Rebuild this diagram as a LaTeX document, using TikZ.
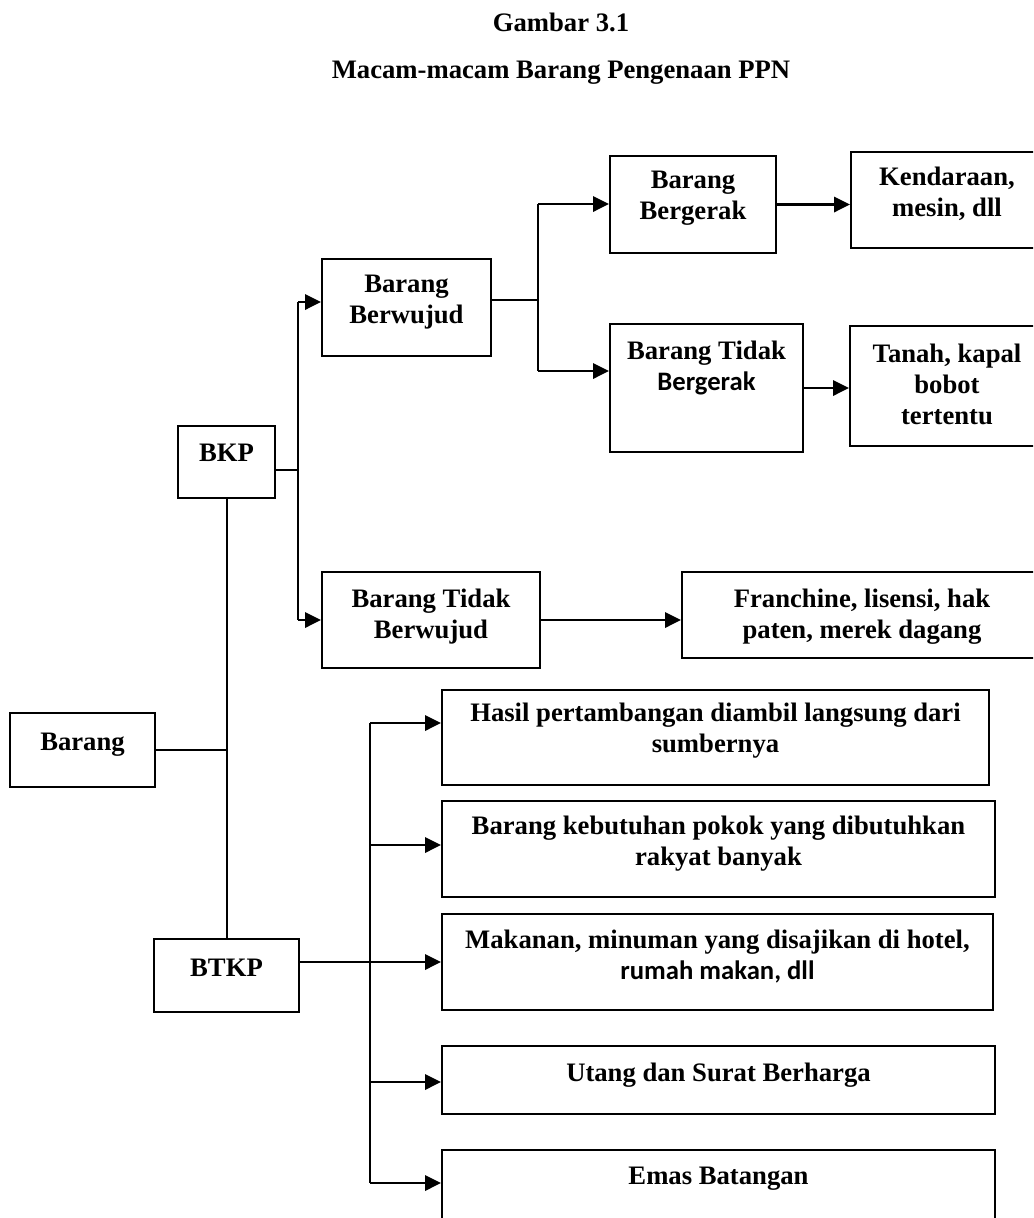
\documentclass[tikz,border=0pt]{standalone}
\usepackage{fontspec}
\setmainfont{Liberation Serif}
\newfontfamily\calibri{Carlito}
\usetikzlibrary{arrows.meta}
\tikzset{kotak/.style 2 args={draw, line width=1.5pt, inner sep=0pt,
    minimum width=#1*0.75pt, minimum height=#2*0.75pt},
  teks/.style={align=center, inner sep=0.75pt,
    font=\fontsize{20}{23.25}\selectfont\bfseries},
  judul/.style={inner sep=0.75pt, font=\fontsize{20}{24}\selectfont\bfseries},
  panah/.style={line width=1.8pt, -{Triangle[length=12pt,width=11.5pt]}},
  garis/.style={line width=1.5pt}}

\begin{document}
\begin{tikzpicture}[x=0.75pt,y=0.75pt,yscale=-1,xscale=1]
\path[use as bounding box] (0,0) rectangle (1033,1218);
\clip (0,0) rectangle (1033,1218);

% Text Node
\node[judul] (gambar) at (561,22) {Gambar 3.1};
% Text Node
\node[judul] (subjudul) at (561,73) {Macam-macam Barang Pengenaan PPN};

%Shape: Rectangle
\node[kotak={145}{74}] (barang) at (82.5,750) {};
\node[kotak={97}{72}] (bkp) at (226.5,462) {};
\node[kotak={145}{73}] (btkp) at (226.5,975.5) {};
\node[kotak={169}{97}] (berwujud) at (406.5,307.5) {};
\node[kotak={218}{96}] (tdkberwujud) at (431,620) {};
\node[kotak={166}{97}] (bergerak) at (693,204.5) {};
\node[kotak={193}{128}] (tdkbergerak) at (706.5,388) {};
\node[kotak={192}{96}] (kendaraan) at (947,200) {};
\node[kotak={193}{120}] (tanah) at (946.5,386) {};
\node[kotak={360}{86}] (franchine) at (862,615) {};
\node[kotak={547}{95}] (hasil) at (715.5,737.5) {};
\node[kotak={553}{96}] (pokok) at (718.5,849) {};
\node[kotak={551}{96}] (makanan) at (717.5,962) {};
\node[kotak={553}{68}] (utang) at (718.5,1080) {};
\node[kotak={553}{110}] (emas) at (718.5,1205) {};

% Text Node
\node[teks] (barang-t) at (82.5,745) {Barang};
\node[teks] (bkp-t) at (226.5,453) {BKP};
\node[teks] (btkp-t) at (226.5,968) {BTKP};
\node[teks] (berwujud-t) at (406.5,302) {Barang\\Berwujud};
\node[teks] (tdkberwujud-t) at (431,617) {Barang Tidak\\Berwujud};
\node[teks] (bergerak-t) at (693,198) {Barang\\Bergerak};
\node[teks] (tdkbergerak-t) at (706.5,368) {Barang Tidak\\{\calibri Bergerak}};
\node[teks] (kendaraan-t) at (947,194) {Kendaraan,\\mesin, dll};
\node[teks] (tanah-t) at (947,384) {Tanah, kapal\\bobot\\tertentu};
\node[teks] (franchine-t) at (862,617) {Franchine, lisensi, hak\\paten, merek dagang};
\node[teks] (hasil-t) at (715.5,731) {Hasil pertambangan diambil langsung dari\\sumbernya};
\node[teks] (pokok-t) at (718.5,844) {Barang kebutuhan pokok yang dibutuhkan\\rakyat banyak};
\node[teks] (makanan-t) at (717.5,957) {Makanan, minuman yang disajikan di hotel,\\{\calibri rumah makan, dll}};
\node[teks] (utang-t) at (718.5,1075) {Utang dan Surat Berharga};
\node[teks] (emas-t) at (718.5,1179) {Emas Batangan};

%Straight Lines
\coordinate (k0) at (298,470);
\coordinate (k1) at (298,302);
\coordinate (k2) at (298,620);
\coordinate (w0) at (538,300);
\coordinate (w1) at (538,204);
\coordinate (w2) at (538,371);
\coordinate (t1) at (370,723);
\coordinate (t2) at (370,845);
\coordinate (t3) at (370,962);
\coordinate (t4) at (370,1082);
\coordinate (t5) at (370,1183);

\draw[garis] (bkp.south) -- (btkp.north);
\draw[garis] (barang.east) -- (barang.east -| bkp.south);
\draw[garis] (bkp.east |- k0) -- (k0);
\draw[garis] (k1) -- (k2);
\draw[panah] (k1) -- (k1 -| berwujud.west);
\draw[panah] (k2) -- (k2 -| tdkberwujud.west);
\draw[garis] (berwujud.east |- w0) -- (w0);
\draw[garis] (w1) -- (w2);
\draw[panah] (w1) -- (w1 -| bergerak.west);
\draw[panah] (w2) -- (w2 -| tdkbergerak.west);
\draw[panah] (bergerak.east) -- (bergerak.east -| kendaraan.west);
\draw[panah] (tdkbergerak.east) -- (tdkbergerak.east -| tanah.west);
\draw[panah] (tdkberwujud.east) -- (tdkberwujud.east -| franchine.west);
\draw[garis] (btkp.east |- t3) -- (t3);
\draw[garis] (t1) -- (t5);
\draw[panah] (t1) -- (t1 -| hasil.west);
\draw[panah] (t2) -- (t2 -| pokok.west);
\draw[panah] (t3) -- (t3 -| makanan.west);
\draw[panah] (t4) -- (t4 -| utang.west);
\draw[panah] (t5) -- (t5 -| emas.west);

\end{tikzpicture}
\end{document}
